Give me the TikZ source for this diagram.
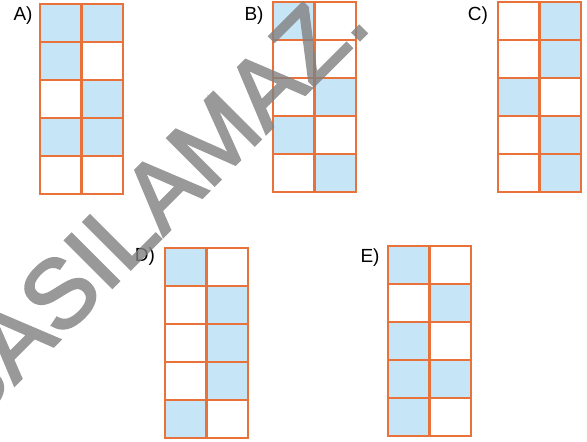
\documentclass[tikz,border=0pt]{standalone}
\usepackage{fontspec}
\setmainfont{Liberation Sans}
\newfontfamily\wmfont[FakeBold=2.5]{Liberation Sans}
\definecolor{gridor}{RGB}{232,114,58}
\definecolor{cellblue}{RGB}{198,229,247}
\tikzset{
  gridline/.style={draw=gridor, line width=2.8pt},
  optlabel/.style={font=\fontsize{19}{19}\selectfont, inner sep=0pt},
  wmark/.style={rotate=45, text=black!50, inner sep=0pt,
    font=\wmfont\fontsize{97}{97}\selectfont}
}
\newcommand\optgrid[3]{%
  \begin{scope}[shift={(#1,#2)}]
    \foreach \c/\r in {#3} \fill[cellblue] (\c*41.5,\r*38) rectangle ++(41.5,38);
    \draw[gridline] (41.5,0) -- (41.5,190);
    \foreach \r in {1,...,4} \draw[gridline] (0,\r*38) -- (83,\r*38);
    \draw[gridline] (0,0) rectangle (83,190);
  \end{scope}}
\begin{document}
\begin{tikzpicture}[x=1pt,y=-1pt]
  \useasboundingbox[fill=white] (0,0) rectangle (587,442);
  \optgrid{40}{4}{0/0,1/0,0/1,1/2,0/3,1/3}
  \optgrid{273}{2}{0/0,1/2,0/3,1/4}
  \optgrid{498}{2}{1/0,1/1,0/2,1/3,1/4}
  \optgrid{165}{248}{0/0,1/1,1/2,1/3,0/4}
  \optgrid{388}{246}{0/0,1/1,0/2,0/3,1/3,0/4}
  \node[optlabel] (la) at (23,16) {A)};
  \node[optlabel] (lb) at (254,16) {B)};
  \node[optlabel] (lc) at (478,16) {C)};
  \node[optlabel] (ld) at (145,257) {D)};
  \node[optlabel] (le) at (370,258) {E)};
  \begin{scope}[transparency group, opacity=0.8]
    \node[wmark, anchor=base east] (wm) at (373,27) {BASILAMAZ.};
  \end{scope}
\end{tikzpicture}
\end{document}
